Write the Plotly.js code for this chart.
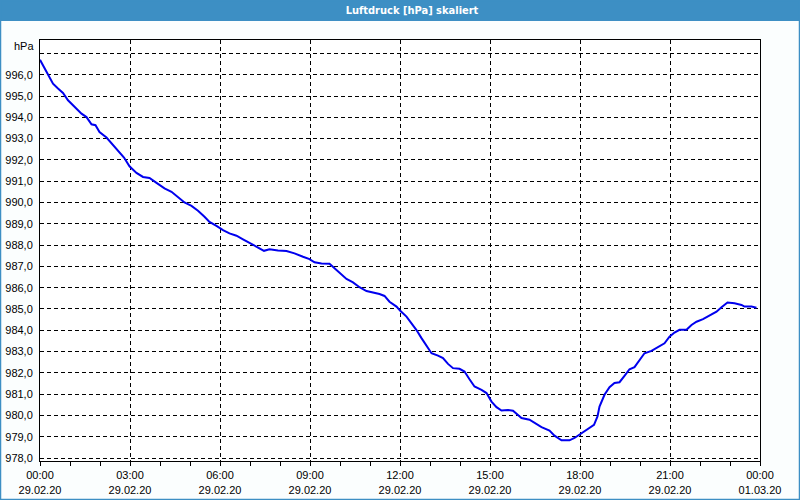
<!DOCTYPE html>
<html>
<head>
<meta charset="utf-8">
<script src="https://cdn.plot.ly/plotly-3.0.1.min.js"></script>
<style>
html,body{margin:0;padding:0;background:#fbfefe;}
#chart{width:800px;height:500px;}
</style>
</head>
<body>
<div id="chart"></div>
<script>
// Time of day on 29.02.20 (HH:MM) and air pressure in hPa
const times = ["00:00","00:16","00:26","00:36","00:46","00:56","01:09","01:23","01:33","01:43","01:51","01:59",
"02:13","02:23","02:36","02:48","02:59","03:13","03:26","03:39","03:53","04:03","04:09","04:23","04:36","04:49",
"05:03","05:16","05:29","05:39","05:53","06:06","06:19","06:33","06:46","06:59","07:13","07:28","07:39","07:56",
"08:13","08:29","08:46","08:59","09:09","09:23","09:39","09:49","10:03","10:13","10:26","10:39","10:53","11:06",
"11:19","11:29","11:39","11:53","12:01","12:13","12:23","12:33","12:43","12:53","13:03","13:16","13:26","13:36",
"13:46","13:59","14:09","14:19","14:29","14:43","14:53","15:03","15:13","15:23","15:36","15:46","15:56","16:03",
"16:19","16:29","16:43","16:59","17:09","17:23","17:39","17:49","17:59","18:09","18:19","18:28","18:35","18:39",
"18:49","18:59","19:09","19:19","19:29","19:39","19:49","19:56","20:01","20:09","20:23","20:36","20:49","20:59",
"21:09","21:19","21:33","21:43","21:53","22:06","22:19","22:33","22:43","22:55","23:09","23:23","23:29","23:43","23:53"];
const pressure = [996.70,996.05,995.58,995.35,995.14,994.80,994.48,994.17,994.01,993.67,993.63,993.31,
993.05,992.77,992.45,992.11,991.70,991.39,991.20,991.15,990.92,990.77,990.66,990.50,990.24,990.00,
989.84,989.61,989.33,989.09,988.90,988.70,988.55,988.44,988.27,988.11,987.92,987.73,987.80,987.74,
987.72,987.61,987.45,987.34,987.19,987.14,987.12,986.91,986.59,986.41,986.25,986.02,985.84,985.78,
985.70,985.61,985.34,985.11,984.90,984.64,984.33,984.01,983.63,983.26,982.92,982.81,982.69,982.42,
982.22,982.19,982.06,981.70,981.36,981.20,981.05,980.65,980.39,980.23,980.26,980.22,980.00,979.88,
979.80,979.64,979.45,979.29,979.05,978.83,978.83,978.94,979.09,979.28,979.41,979.56,979.95,980.42,
980.97,981.33,981.52,981.56,981.86,982.17,982.27,982.48,982.65,982.92,983.03,983.20,983.39,983.70,
983.89,984.02,984.02,984.25,984.40,984.52,984.67,984.87,985.08,985.30,985.27,985.19,985.11,985.11,985.06];

const xTickVals = ["2020-02-29 00:00","2020-02-29 03:00","2020-02-29 06:00","2020-02-29 09:00","2020-02-29 12:00",
"2020-02-29 15:00","2020-02-29 18:00","2020-02-29 21:00","2020-03-01 00:00"];
const xTickText = ["00:00<br>29.02.20","03:00<br>29.02.20","06:00<br>29.02.20","09:00<br>29.02.20","12:00<br>29.02.20",
"15:00<br>29.02.20","18:00<br>29.02.20","21:00<br>29.02.20","00:00<br>01.03.20"];
const yTickVals = [978,979,980,981,982,983,984,985,986,987,988,989,990,991,992,993,994,995,996,997];
const yTickText = ["978,0","979,0","980,0","981,0","982,0","983,0","984,0","985,0","986,0","987,0",
"988,0","989,0","990,0","991,0","992,0","993,0","994,0","995,0","996,0",""];

const x = times.map(t => "2020-02-29 " + t);

const W = 720, H = 421;
const font = {family: "Liberation Sans, Arial, sans-serif", size: 11, color: "#000"};

const trace = {
  x: x, y: pressure, type: "scatter", mode: "lines",
  line: {color: "#0000ee", width: 2},
  hoverinfo: "skip"
};

const layout = {
  width: 800, height: 500,
  margin: {l: 40, r: 40, t: 40, b: 39, pad: 0},
  paper_bgcolor: "#fbfefe",
  plot_bgcolor: "#ffffff",
  showlegend: false,
  font: font,
  title: {
    text: "<b>Luftdruck [hPa] skaliert</b>",
    font: {family: "DejaVu Sans Condensed, DejaVu Sans, sans-serif", size: 11, color: "#ffffff"},
    x: 0.5 + 12/W, xanchor: "center", xref: "paper",
    y: 1 - 10/500, yanchor: "middle", yref: "container"
  },
  xaxis: {
    type: "date",
    range: ["2020-02-29 00:00", "2020-03-01 00:00"],
    tickmode: "array", tickvals: xTickVals, ticktext: xTickText,
    ticks: "outside", ticklen: 4, tickcolor: "#000", tickwidth: 1,
    minor: {dtick: 3600000, tick0: "2020-02-29 00:00", ticks: "outside", ticklen: 4, tickcolor: "#000", showgrid: false},
    showgrid: true, gridcolor: "#000", gridwidth: 1, griddash: "4px,3px",
    showline: true, linecolor: "#000", linewidth: 1, mirror: true,
    zeroline: false, fixedrange: true,
    tickfont: font
  },
  yaxis: {
    range: [977.86, 997.63],
    tickmode: "array", tickvals: yTickVals, ticktext: yTickText,
    ticks: "", ticklabelstandoff: 4,
    showgrid: true, gridcolor: "#000", gridwidth: 1, griddash: "4px,3px",
    showline: true, linecolor: "#000", linewidth: 1, mirror: true,
    zeroline: false, fixedrange: true,
    tickfont: font
  },
  shapes: [
    {type: "rect", xref: "paper", yref: "paper", layer: "below",
     x0: -40/W, x1: 1 + 40/W, y0: 1 + 19/H, y1: 1 + 40/H,
     fillcolor: "#3d8fc4", line: {width: 0}},
    {type: "rect", xref: "paper", yref: "paper", layer: "above",
     x0: -39.5/W, x1: 1 + 39.5/W, y0: -38.5/H, y1: 1 + 39.5/H,
     fillcolor: "rgba(0,0,0,0)", line: {color: "#3d8fc4", width: 1.5}}
  ],
  annotations: [
    {text: "hPa", xref: "paper", yref: "paper", x: 0, y: 1 - 6/H,
     xanchor: "right", yanchor: "middle", xshift: -4, showarrow: false, font: font}
  ]
};

Plotly.newPlot("chart", [trace], layout, {displayModeBar: false, staticPlot: true});
</script>
</body>
</html>
